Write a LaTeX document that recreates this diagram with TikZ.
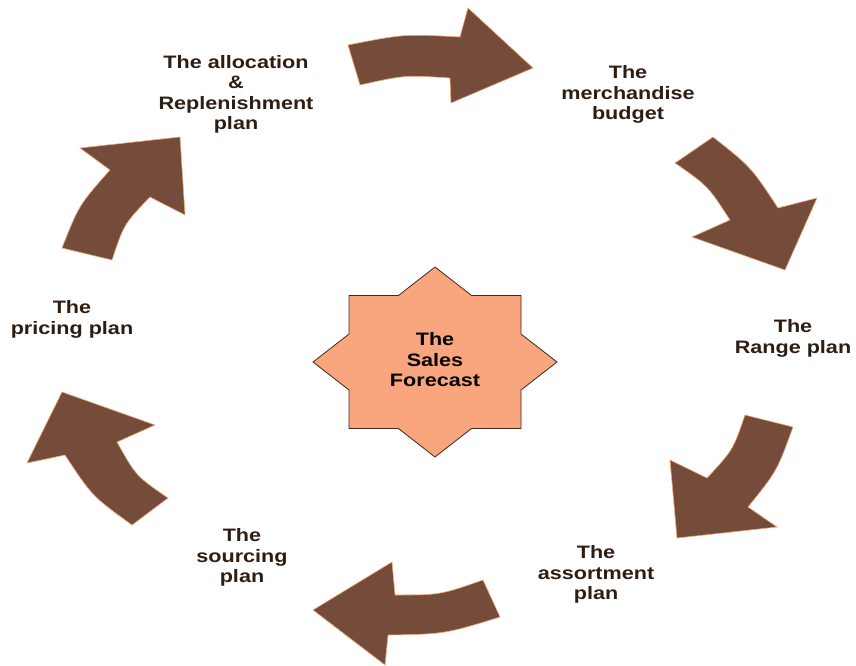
\documentclass[tikz,border=0pt]{standalone}
\usepackage{fontspec}
\setmainfont{Liberation Sans}
\usepackage{graphicx}

\definecolor{arrowbrown}{HTML}{754C3A}
\definecolor{arrowedge}{HTML}{F2A676}
\definecolor{starfill}{HTML}{F9A57E}
\definecolor{staredge}{HTML}{3A2A20}
\definecolor{labeltext}{HTML}{2E1D12}

% centred multi-line label, widened a little
\newcommand{\lbl}[1]{\scalebox{1.2}[1]{\begin{tabular}{@{}c@{}}#1\end{tabular}}}

\tikzset{
  flow/.style={fill=arrowbrown, draw=arrowedge, line width=0.6pt, line join=miter},
  steplabel/.style={text=labeltext, inner sep=0pt,
    font=\bfseries\fontsize{18}{20.5}\selectfont},
  starshape/.style={fill=starfill, draw=staredge, line width=0.8pt, line join=miter},
}

\begin{document}
\begin{tikzpicture}[x=1pt, y=-1pt]
  \useasboundingbox (0,0) rectangle (856,666);

  % ---- central eight-pointed star ----
  \coordinate (fc) at (435,362);
  \begin{scope}[shift={(fc)}]
    \draw[starshape]
      (0,-95) -- (36.6,-66.5) -- (86,-66.5) -- (86,-28) -- (122,0)
      -- (86,28) -- (86,66.5) -- (36.6,66.5) -- (0,95)
      -- (-36.6,66.5) -- (-86,66.5) -- (-86,28) -- (-122,0)
      -- (-86,-28) -- (-86,-66.5) -- (-36.6,-66.5) -- cycle;
  \end{scope}
  \node[steplabel, text=black] (forecast) at (fc) {\lbl{The\\Sales\\Forecast}};

  % ---- curved block arrows, clockwise ----
  % top
  \draw[flow] (348,45) .. controls (404,34) .. (460,37) -- (468,8) -- (533,68)
    -- (451,103) -- (450,78) .. controls (405,75) .. (360,85) -- cycle;
  % upper right
  \draw[flow] (713,137) .. controls (751,167) .. (778,208) -- (817,198) -- (785,270)
    -- (692,237) -- (730,220) .. controls (708,186) .. (675,163) -- cycle;
  % lower right
  \draw[flow] (793,427) .. controls (777,471) .. (748,507) -- (777,527) -- (677,538)
    -- (670,460) -- (707,478) .. controls (733,450) .. (745,415) -- cycle;
  % bottom
  \draw[flow] (500,617) .. controls (445,634) .. (388,635) -- (385,665) -- (313,610)
    -- (392,562) -- (395,595) .. controls (440,595) .. (483,580) -- cycle;
  % lower left
  \draw[flow] (132,525) .. controls (92,496) .. (65,455) -- (27,463) -- (62,392)
    -- (155,425) -- (117,442) .. controls (136,476) .. (168,498) -- cycle;
  % upper left
  \draw[flow] (62,248) .. controls (79,205) .. (110,170) -- (80,148) -- (180,137)
    -- (185,215) -- (150,197) .. controls (124,224) .. (112,260) -- cycle;

  % ---- step labels ----
  \node[steplabel] (alloc)  at (236,95)  {\lbl{The allocation\\\&\\Replenishment\\plan}};
  \node[steplabel] (budget) at (628,95)  {\lbl{The\\merchandise\\budget}};
  \node[steplabel] (range)  at (793,339) {\lbl{The\\Range plan}};
  \node[steplabel] (assort) at (596,575) {\lbl{The\\assortment\\plan}};
  \node[steplabel] (source) at (242,558) {\lbl{The\\sourcing\\plan}};
  \node[steplabel] (price)  at (72,320)  {\lbl{The\\pricing plan}};
\end{tikzpicture}
\end{document}
